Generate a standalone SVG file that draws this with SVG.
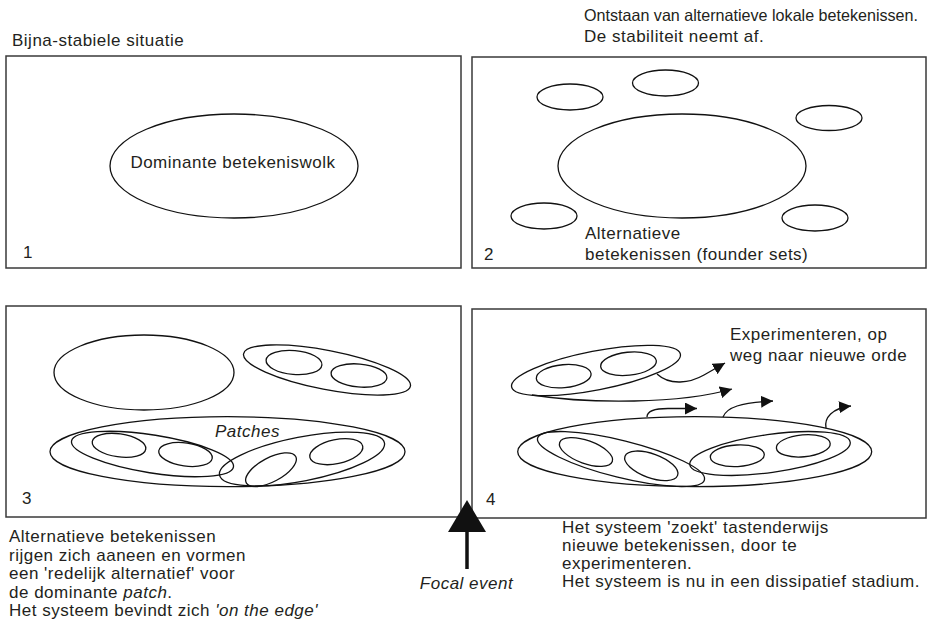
<svg xmlns="http://www.w3.org/2000/svg" width="927" height="625" viewBox="0 0 927 625">
<style>
text{font-family:"Liberation Sans",Arial,sans-serif;font-size:17px;letter-spacing:0.5px;fill:#231f20}
.it{font-style:italic}
.panel{fill:none;stroke:#3a3a3a;stroke-width:1.5}
.sh{fill:none;stroke:#111;stroke-width:1.3}
.con{fill:none;stroke:#111;stroke-width:1.3}
</style>
<defs>
<marker id="ah" markerUnits="userSpaceOnUse" markerWidth="12" markerHeight="12" refX="10" refY="5" orient="auto" viewBox="0 0 10 10">
<path d="M0,0 L10,5 L0,10 Z" fill="#111"/>
</marker>
</defs>
<rect width="927" height="625" fill="#fff"/>

<g id="panel1">
<rect class="panel" x="6" y="56" width="455" height="212"/>
<text x="12" y="46">Bijna-stabiele situatie</text>
<ellipse class="sh" cx="234" cy="166" rx="124" ry="52"/>
<text x="233" y="168" text-anchor="middle">Dominante betekeniswolk</text>
<text x="23" y="258">1</text>
</g>

<g id="panel2">
<rect class="panel" x="472" y="57" width="454" height="211"/>
<text x="584" y="21" style="letter-spacing:0;font-size:16.5px" textLength="334" lengthAdjust="spacingAndGlyphs">Ontstaan van alternatieve lokale betekenissen.</text>
<text x="584" y="42">De stabiliteit neemt af.</text>
<ellipse class="sh" cx="682" cy="166" rx="124" ry="52"/>
<ellipse class="sh" cx="570" cy="97" rx="33" ry="13"/>
<ellipse class="sh" cx="665.5" cy="83" rx="33" ry="13"/>
<ellipse class="sh" cx="829" cy="118" rx="33" ry="12.5"/>
<ellipse class="sh" cx="544" cy="216" rx="33" ry="13"/>
<ellipse class="sh" cx="815" cy="218" rx="33" ry="13"/>
<text x="585" y="239">Alternatieve</text>
<text x="585" y="260">betekenissen (founder sets)</text>
<text x="484" y="260">2</text>
</g>

<g id="panel3">
<rect class="panel" x="6" y="306" width="455" height="211"/>
<ellipse class="sh" cx="144" cy="372.5" rx="90" ry="37.5"/>
<ellipse class="sh" cx="327" cy="370" rx="85" ry="19.5" transform="rotate(11 327 370)"/>
<ellipse class="sh" cx="294" cy="362.5" rx="28" ry="12" transform="rotate(5 294 362.5)"/>
<ellipse class="sh" cx="359" cy="375.5" rx="28" ry="11.5" transform="rotate(5 359 375.5)"/>
<ellipse class="sh" cx="227.5" cy="451.7" rx="177.5" ry="35"/>
<ellipse class="sh" cx="152.5" cy="454" rx="82" ry="19" transform="rotate(9 152.5 454)"/>
<ellipse class="sh" cx="119" cy="445.3" rx="27" ry="11.5" transform="rotate(8 119 445.3)"/>
<ellipse class="sh" cx="185.5" cy="454.5" rx="27" ry="11.5" transform="rotate(8 185.5 454.5)"/>
<ellipse class="sh" cx="302" cy="459" rx="84" ry="22" transform="rotate(-11 302 459)"/>
<ellipse class="sh" cx="271" cy="469.7" rx="28" ry="12" transform="rotate(-28 271 469.7)"/>
<ellipse class="sh" cx="336.3" cy="451.7" rx="27" ry="12" transform="rotate(-12 336.3 451.7)"/>
<text class="it" x="215" y="437">Patches</text>
<text x="22" y="504">3</text>
</g>

<g id="panel4">
<rect class="panel" x="472" y="309" width="454" height="209"/>
<ellipse class="sh" cx="596" cy="370.5" rx="86" ry="19.5" transform="rotate(-11 596 370.5)"/>
<ellipse class="sh" cx="563.7" cy="376.2" rx="27.5" ry="11.5" transform="rotate(-5 563.7 376.2)"/>
<ellipse class="sh" cx="628.5" cy="363.7" rx="28" ry="11.5" transform="rotate(-6 628.5 363.7)"/>
<ellipse class="sh" cx="694.7" cy="451.7" rx="177" ry="35"/>
<ellipse class="sh" cx="621" cy="459" rx="86" ry="18.5" transform="rotate(14 621 459)"/>
<ellipse class="sh" cx="586" cy="452" rx="28" ry="11.5" transform="rotate(20 586 452)"/>
<ellipse class="sh" cx="651.3" cy="465.8" rx="28" ry="12" transform="rotate(20 651.3 465.8)"/>
<ellipse class="sh" cx="770" cy="453.5" rx="81" ry="19" transform="rotate(-8 770 453.5)"/>
<ellipse class="sh" cx="737.3" cy="455.8" rx="27" ry="10.8" transform="rotate(-3 737.3 455.8)"/>
<ellipse class="sh" cx="803.3" cy="445.8" rx="27" ry="11" transform="rotate(-5 803.3 445.8)"/>
<text x="730" y="340">Experimenteren, op</text>
<text x="730" y="361">weg naar nieuwe orde</text>
<text x="486" y="505">4</text>
</g>

<g id="connectors">
<path class="con" d="M657,374 C670,386 690,383 704,375 L725,363" marker-end="url(#ah)"/>
<path class="con" d="M532,395 C590,404 680,404 732,389" marker-end="url(#ah)"/>
<path class="con" d="M647,417 C647,411 655,408.5 668,408.5 L697,408.5" marker-end="url(#ah)"/>
<path class="con" d="M723,417 C727,407 740,403 773,401" marker-end="url(#ah)"/>
<path class="con" d="M826,428 C824,418 832,408 851,406" marker-end="url(#ah)"/>
</g>

<g id="focal-event">
<line x1="467" y1="530" x2="467" y2="569" stroke="#111" stroke-width="3.5"/>
<polygon points="467,500 448,532 486,532" fill="#111"/>
<text class="it" x="466.5" y="589" text-anchor="middle">Focal event</text>
</g>

<g id="caption3">
<text x="9" y="542">Alternatieve betekenissen</text>
<text x="9" y="560.5">rijgen zich aaneen en vormen</text>
<text x="9" y="579">een 'redelijk alternatief' voor</text>
<text x="9" y="597.5">de dominante <tspan class="it">patch</tspan>.</text>
<text x="9" y="616">Het systeem bevindt zich <tspan class="it">'on the edge'</tspan></text>
</g>

<g id="caption4">
<text x="562" y="533">Het systeem 'zoekt' tastenderwijs</text>
<text x="562" y="551">nieuwe betekenissen, door te</text>
<text x="562" y="569">experimenteren.</text>
<text x="562" y="587">Het systeem is nu in een dissipatief stadium.</text>
</g>
</svg>
